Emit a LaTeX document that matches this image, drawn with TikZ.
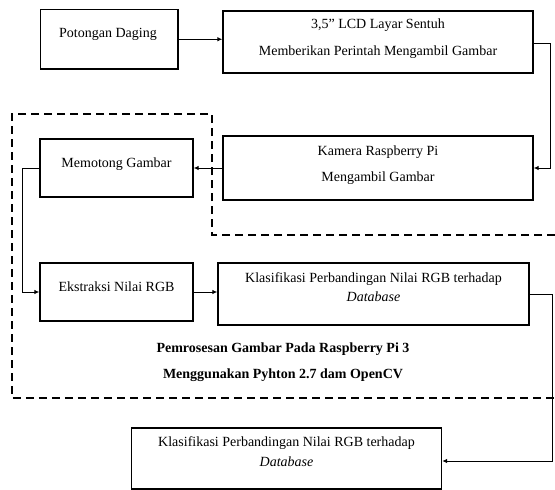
\documentclass[tikz,border=0pt]{standalone}
\usepackage{fontspec}
\setmainfont{Liberation Serif}
\usetikzlibrary{arrows.meta}
\begin{document}
\begin{tikzpicture}[x=1pt,y=-1pt,
  box/.style={draw, line width=1.3pt, inner sep=0pt},
  txt/.style={inner sep=0pt, text height=10pt, text depth=3pt, font=\fontsize{14}{16}\selectfont},
  btxt/.style={inner sep=0pt, text height=10pt, text depth=3pt, font=\fontsize{14}{16}\selectfont\bfseries},
  conn/.style={line width=1pt, -{Latex[length=5pt,width=4.5pt]}},
  grp/.style={line width=1.8pt, dash pattern=on 8pt off 5pt}]
\useasboundingbox (0,0) rectangle (555,490);
% boxes
\node[box, minimum width=137.5pt, minimum height=59.5pt] (b1) at (109.25,39.25) {};
\node[box, minimum width=310pt, minimum height=62pt] (b2) at (378,42) {};
\node[box, minimum width=310pt, minimum height=64pt] (b3) at (378,168) {};
\node[box, minimum width=153pt, minimum height=58pt] (b4) at (116.5,168) {};
\node[box, minimum width=153pt, minimum height=58pt] (b5) at (116.5,292) {};
\node[box, minimum width=311pt, minimum height=62pt] (b6) at (373.5,294) {};
\node[box, minimum width=310pt, minimum height=61pt] (b7) at (286.5,458.5) {};
% texts
\node[txt] (t1) at (108,34) {Potongan Daging};
\node[txt] (t2a) at (378,25) {3,5” LCD Layar Sentuh};
\node[txt] (t2b) at (378,52) {Memberikan Perintah Mengambil Gambar};
\node[txt] (t3a) at (378,152) {Kamera Raspberry Pi};
\node[txt] (t3b) at (378,178) {Mengambil Gambar};
\node[txt] (t4) at (116.5,164) {Memotong Gambar};
\node[txt] (t5) at (116.5,288) {Ekstraksi Nilai RGB};
\node[txt] (t6a) at (373.5,279) {Klasifikasi Perbandingan Nilai RGB terhadap};
\node[txt] (t6b) at (373.5,298) {\itshape Database};
\node[txt] (t7a) at (286.5,443) {Klasifikasi Perbandingan Nilai RGB terhadap};
\node[txt] (t7b) at (286.5,463) {\itshape Database};
\node[btxt] (g1) at (283,349) {Pemrosesan Gambar Pada Raspberry Pi 3};
\node[btxt] (g2) at (283,375) {Menggunakan Pyhton 2.7 dam OpenCV};
% group boundary
\draw[grp] (555,235) -- (212,235) -- (212,114) -- (12,114) -- (12,398) -- (555,398);
% bend coordinates
\coordinate (c1) at (550,43);
\coordinate (c2) at (22,169);
\coordinate (c3) at (552,294);
% connectors
\draw[conn] (b1.east) -- (b1.east -| b2.west);
\draw[conn] ([yshift=-1pt]b2.east) -- ([yshift=-1pt]b2.east -| c1) |- (b3.east);
\draw[conn] (b3.west) -- (b4.east);
\draw[conn] (b4.west) -- (b4.west -| c2) |- (b5.west);
\draw[conn] (b5.east) -- (b5.east -| b6.west);
\draw[conn] (b6.east) -- (b6.east -| c3) |- ([yshift=-2.5pt]b7.east);
\end{tikzpicture}
\end{document}
